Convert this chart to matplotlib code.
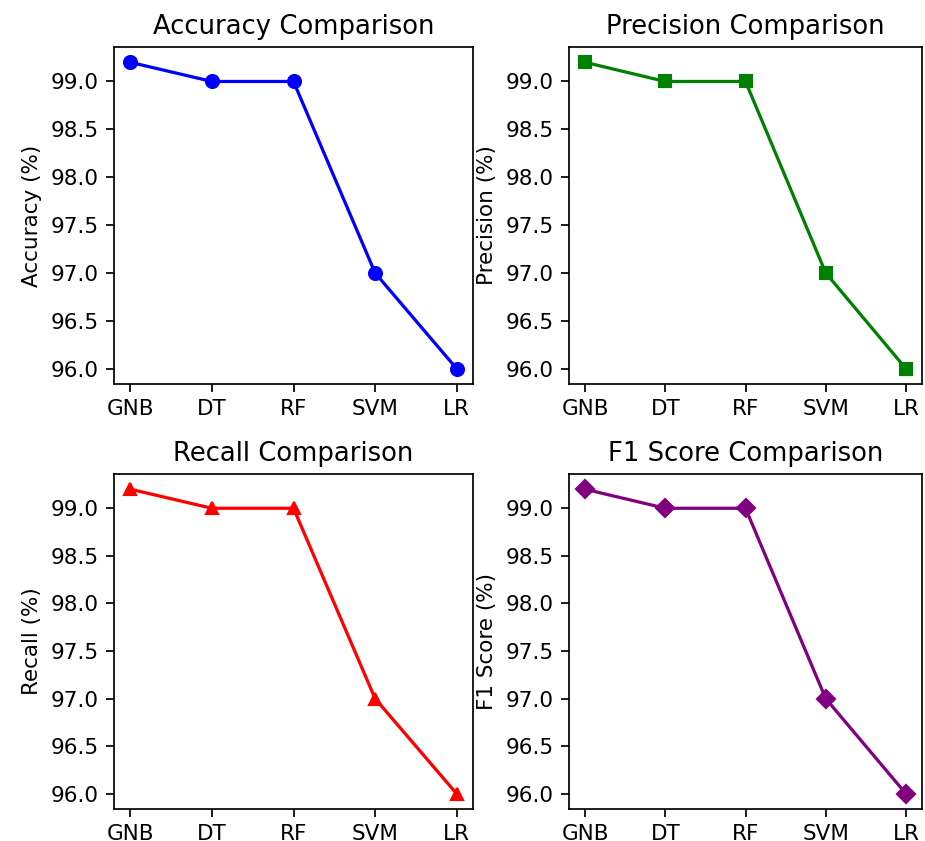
import matplotlib
matplotlib.use('Agg')
import matplotlib.pyplot as plt
from matplotlib.ticker import MultipleLocator, FormatStrFormatter

models = ['GNB', 'DT', 'RF', 'SVM', 'LR']
accuracy = [99.2, 99.0, 99.0, 97.0, 96.0]
precision = [99.2, 99.0, 99.0, 97.0, 96.0]
recall = [99.2, 99.0, 99.0, 97.0, 96.0]
f1_score = [99.2, 99.0, 99.0, 97.0, 96.0]

panels = [
    (accuracy, 'Accuracy', 'blue', 'o'),
    (precision, 'Precision', 'green', 's'),
    (recall, 'Recall', 'red', '^'),
    (f1_score, 'F1 Score', 'purple', 'D'),
]

W, H = 925, 841
fig, axes = plt.subplots(2, 2, figsize=(W / 155, H / 155), dpi=155)

# pixel boxes (left, top, right, bottom)
boxes = [(114, 47, 473, 384), (569, 47, 922, 384),
         (114, 474, 473, 809), (569, 474, 922, 809)]

for ax, box, (vals, name, col, mk) in zip(axes.flat, boxes, panels):
    l, t, r, b = box
    ax.set_position([l / W, 1 - b / H, (r - l) / W, (b - t) / H])
    ax.plot(models, vals, marker=mk, color=col)
    ax.set_title(name + ' Comparison')
    ax.set_ylabel(name + ' (%)')
    ax.yaxis.set_major_locator(MultipleLocator(0.5))
    ax.yaxis.set_major_formatter(FormatStrFormatter('%.1f'))

fig.savefig('out.png', dpi=155)
